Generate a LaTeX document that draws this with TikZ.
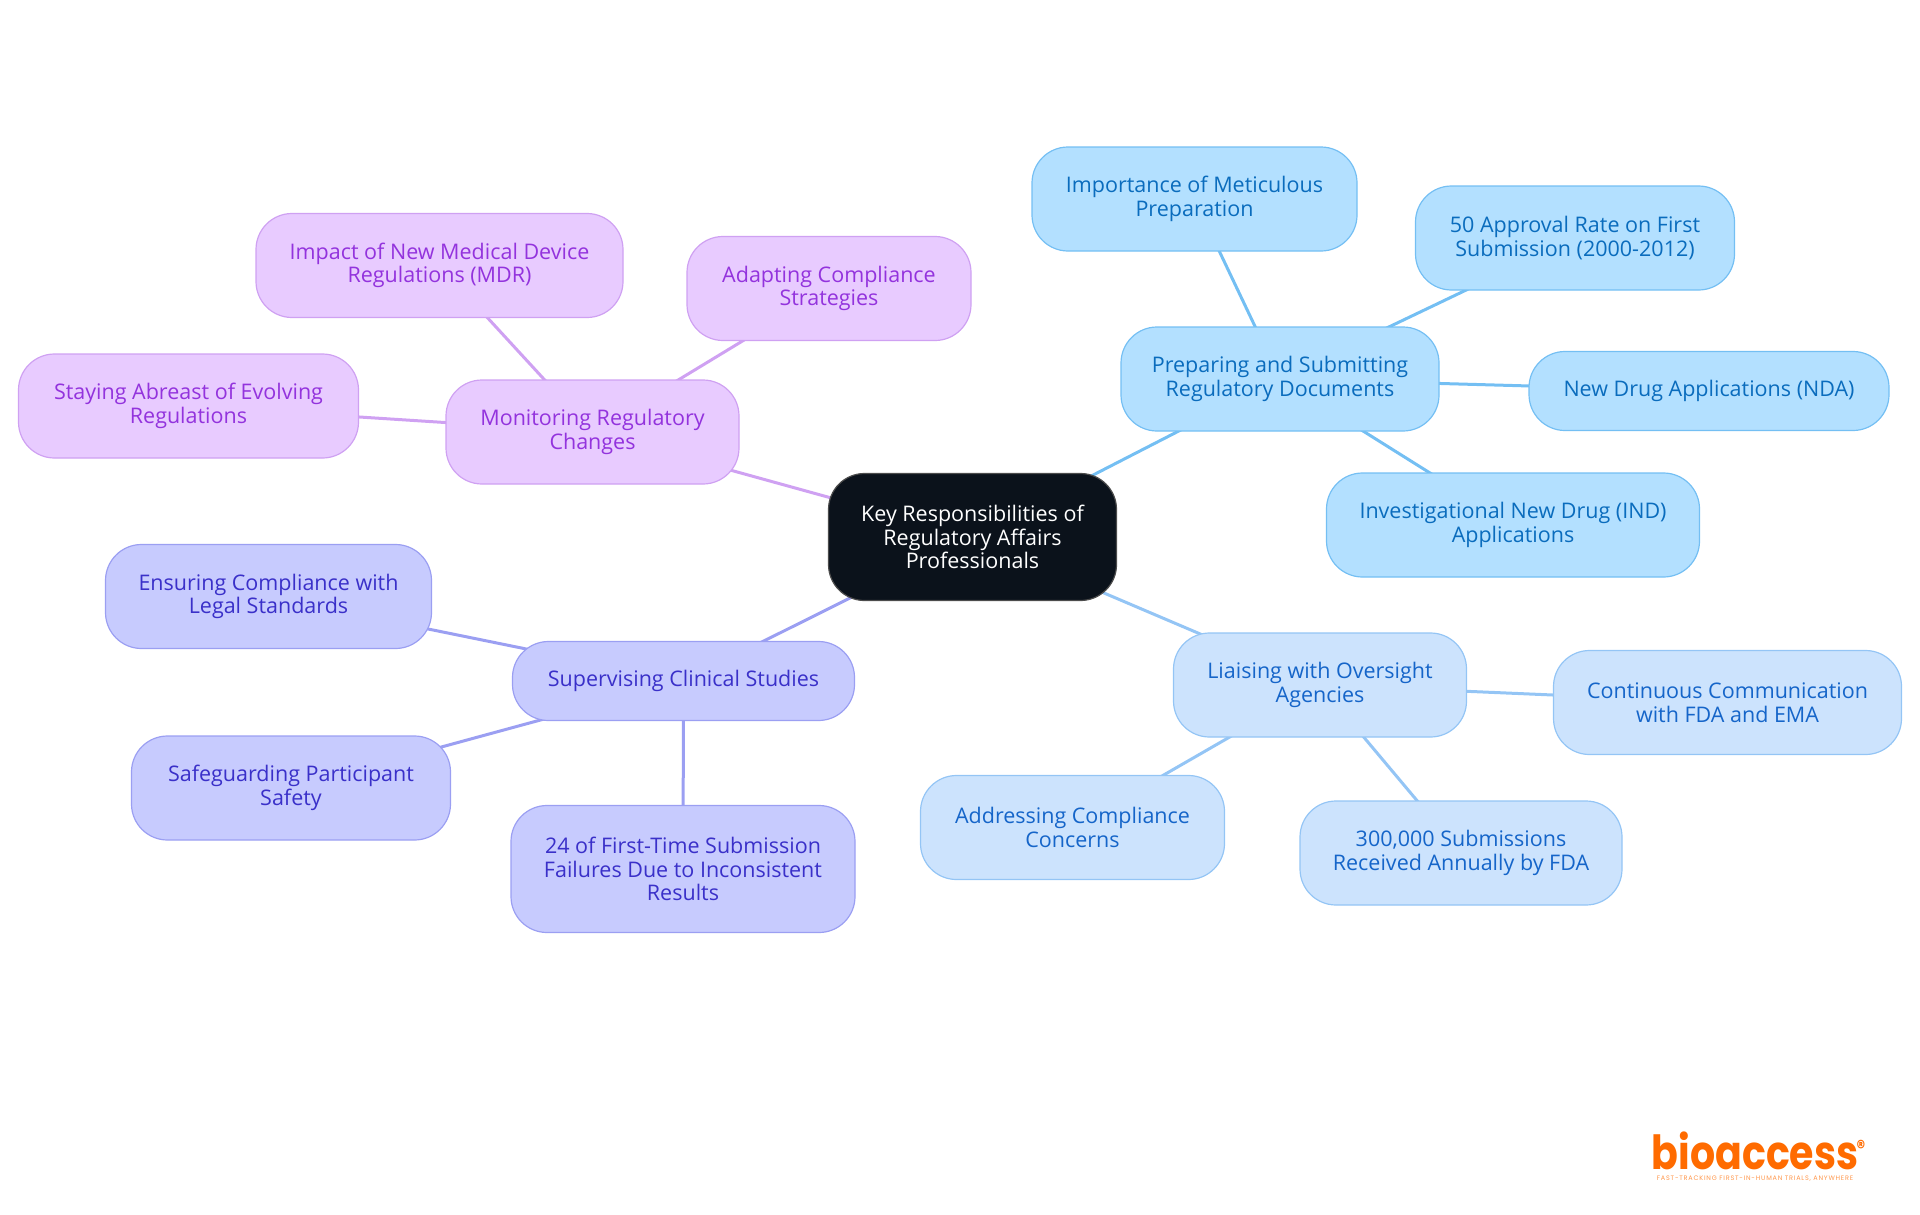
\documentclass[tikz,border=0pt]{standalone}
\usepackage{fontspec}
\setmainfont{Open Sans}
\newfontfamily\logofont[FakeStretch=0.84]{Poppins}
\newfontfamily\tagfont[LetterSpace=12]{Poppins}
\usepackage{xcolor}
\usetikzlibrary{backgrounds}
\definecolor{rootfill}{HTML}{0B121B}
\definecolor{prepfill}{HTML}{B3E0FF}
\definecolor{prepline}{HTML}{74BFF3}
\definecolor{preptext}{HTML}{0A6CBD}
\definecolor{liaisefill}{HTML}{CCE3FD}
\definecolor{liaiseline}{HTML}{94C5F5}
\definecolor{liaisetext}{HTML}{1565C9}
\definecolor{supfill}{HTML}{C7CBFE}
\definecolor{supline}{HTML}{9B9FF2}
\definecolor{suptext}{HTML}{3A30C9}
\definecolor{monfill}{HTML}{E8CBFF}
\definecolor{monline}{HTML}{CFA1F2}
\definecolor{montext}{HTML}{9333DD}
\definecolor{logoorange}{HTML}{FF6B00}
\tikzstyle{box}=[
  draw,rounded corners=36pt,inner sep=0pt,line width=1.2pt,align=center,
  minimum height=104pt,font=\fontsize{21.5}{23.5}\selectfont
]
\tikzstyle{rootbox}=[box,fill=rootfill,draw=gray!60!black,text=white]
\tikzstyle{prepbox}=[box,fill=prepfill,draw=prepline,text=preptext]
\tikzstyle{liaisebox}=[box,fill=liaisefill,draw=liaiseline,text=liaisetext]
\tikzstyle{supbox}=[box,fill=supfill,draw=supline,text=suptext]
\tikzstyle{monbox}=[box,fill=monfill,draw=monline,text=montext]
\tikzstyle{link}=[line width=3pt]

\begin{document}
\begin{tikzpicture}[x=1pt,y=-1pt]
    \useasboundingbox (0,0) rectangle (1920,1215);
    % centre
    \node[rootbox,minimum width=288pt,minimum height=127pt] (root) at (972.5,537) {Key Responsibilities of\\Regulatory Affairs\\Professionals};
    % right hand, top
    \node[prepbox,minimum width=318pt] (prep) at (1280,379) {Preparing and Submitting\\Regulatory Documents};
    \node[prepbox,minimum width=325pt] (meticulous) at (1194.5,199) {Importance of Meticulous\\Preparation};
    \node[prepbox,minimum width=319pt] (approval) at (1575,238) {50 Approval Rate on First\\Submission (2000-2012)};
    \node[prepbox,minimum width=360pt,minimum height=79pt] (nda) at (1709,391) {New Drug Applications (NDA)};
    \node[prepbox,minimum width=373pt] (ind) at (1513,525) {Investigational New Drug (IND)\\Applications};
    % right hand, bottom
    \node[liaisebox,minimum width=293pt] (liaise) at (1320,685) {Liaising with Oversight\\Agencies};
    \node[liaisebox,minimum width=348pt] (fda) at (1727.5,702.5) {Continuous Communication\\with FDA and EMA};
    \node[liaisebox,minimum width=322pt] (received) at (1461,853) {300,000 Submissions\\Received Annually by FDA};
    \node[liaisebox,minimum width=304pt] (concerns) at (1072.5,827.5) {Addressing Compliance\\Concerns};
    % left hand, bottom
    \node[supbox,minimum width=342pt,minimum height=79pt] (sup) at (683.5,681) {Supervising Clinical Studies};
    \node[supbox,minimum width=326pt] (legal) at (268.5,596.5) {Ensuring Compliance with\\Legal Standards};
    \node[supbox,minimum width=319pt] (safety) at (291,788) {Safeguarding Participant\\Safety};
    \node[supbox,minimum width=344pt,minimum height=127pt] (failures) at (683,869) {24 of First-Time Submission\\Failures Due to Inconsistent\\Results};
    % left hand, top
    \node[monbox,minimum width=293pt] (mon) at (592.5,432) {Monitoring Regulatory\\Changes};
    \node[monbox,minimum width=367pt] (mdr) at (439.5,265.5) {Impact of New Medical Device\\Regulations (MDR)};
    \node[monbox,minimum width=284pt] (adapt) at (829,288.5) {Adapting Compliance\\Strategies};
    \node[monbox,minimum width=340pt] (abreast) at (188.5,406) {Staying Abreast of Evolving\\Regulations};
    % connectors
    \begin{pgfonlayer}{background}
    \draw[link,prepline] (root.center) -- (prep.center);
    \draw[link,prepline] (prep.center) -- (meticulous.center);
    \draw[link,prepline] (prep.center) -- (approval.center);
    \draw[link,prepline] (prep.center) -- (nda.center);
    \draw[link,prepline] (prep.center) -- (ind.center);
    \draw[link,liaiseline] (root.center) -- (liaise.center);
    \draw[link,liaiseline] (liaise.center) -- (fda.center);
    \draw[link,liaiseline] (liaise.center) -- (received.center);
    \draw[link,liaiseline] (liaise.center) -- (concerns.center);
    \draw[link,supline] (root.center) -- (sup.center);
    \draw[link,supline] (sup.center) -- (legal.center);
    \draw[link,supline] (sup.center) -- (safety.center);
    \draw[link,supline] (sup.center) -- (failures.center);
    \draw[link,monline] (root.center) -- (mon.center);
    \draw[link,monline] (mon.center) -- (mdr.center);
    \draw[link,monline] (mon.center) -- (adapt.center);
    \draw[link,monline] (mon.center) -- (abreast.center);
    \end{pgfonlayer}
    % logo
    \node[inner sep=0pt,text=logoorange,font=\logofont\bfseries\fontsize{47}{47}\selectfont,anchor=base] (logo) at (1755,1169) {bioaccess};
    \node[inner sep=0pt,text=logoorange,font=\logofont\bfseries\fontsize{20}{20}\selectfont,anchor=base] (logomark) at (1861,1154) {®};
    \node[inner sep=0pt,text=logoorange!70,font=\tagfont\fontsize{6.5}{7}\selectfont,anchor=base] (tagline) at (1755,1180) {FAST-TRACKING FIRST-IN-HUMAN TRIALS, ANYWHERE};
\end{tikzpicture}
\end{document}
